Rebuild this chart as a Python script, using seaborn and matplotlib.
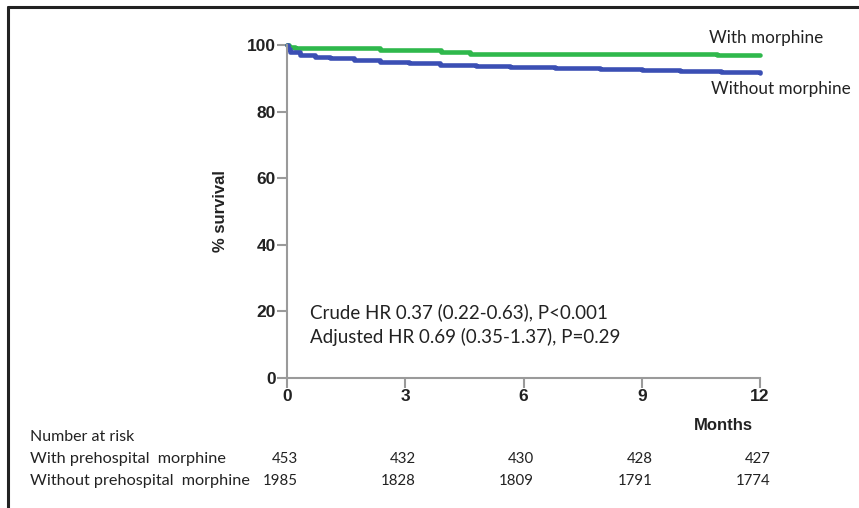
import matplotlib
matplotlib.use("Agg")
import matplotlib.pyplot as plt
import matplotlib.transforms as mtransforms
from matplotlib.lines import Line2D
import seaborn as sns
import pandas as pd

# ---- data ----
with_months = [0.0, 0.05, 0.2, 2.35, 3.9, 4.65, 10.9, 12.0]
with_surv = [100.0, 99.5, 99.1, 98.5, 97.8, 97.3, 97.0, 97.0]
without_months = [0.0, 0.03, 0.08, 0.33, 0.7, 1.09, 1.7, 2.36, 3.1, 3.88, 4.8, 5.66, 6.8, 7.94, 9.0, 9.97, 11.0, 12.0]
without_surv = [100.0, 98.8, 98.0, 97.0, 96.5, 96.0, 95.5, 95.0, 94.5, 94.0, 93.8, 93.5, 93.1, 92.7, 92.5, 92.3, 92.0, 91.7]
x_ticks = [0, 3, 6, 9, 12]
y_ticks = [0, 20, 40, 60, 80, 100]
risk_with = [453, 432, 430, 428, 427]
risk_without = [1985, 1828, 1809, 1791, 1774]
series_labels = ["With morphine", "Without morphine"]
risk_labels = ["With prehospital  morphine", "Without prehospital  morphine"]
hr_lines = ["Crude HR 0.37 (0.22-0.63), P<0.001", "Adjusted HR 0.69 (0.35-1.37), P=0.29"]

green = "#2fb84c"
blue = "#3b4fb4"
txt = "#222222"
body_font = ["Lato", "DejaVu Sans"]

df = pd.concat([
    pd.DataFrame({"month": with_months, "surv": with_surv, "group": series_labels[0]}),
    pd.DataFrame({"month": without_months, "surv": without_surv, "group": series_labels[1]}),
])

sns.set_theme(style="white")
plt.rcParams["font.family"] = ["Liberation Sans", "DejaVu Sans"]

fig = plt.figure(figsize=(8.59, 5.08), dpi=100)
ax = fig.add_axes([287 / 859, 1 - 378 / 508, (760 - 287) / 859, (378 - 45) / 508])

sns.lineplot(data=df, x="month", y="surv", hue="group", palette=[green, blue],
             drawstyle="steps-post", linewidth=3.3, ax=ax, legend=False, estimator=None,
             sort=False)
for ln in ax.lines:
    ln.set_clip_on(False)

ax.set_xlim(0, 12)
ax.set_ylim(0, 100)
ax.set_xticks(x_ticks)
ax.set_yticks(y_ticks)
ax.set_xticklabels([str(t) for t in x_ticks], fontweight="bold", fontsize=12.5, color=txt)
ax.set_yticklabels([str(t) for t in y_ticks], fontweight="bold", fontsize=12.5, color=txt)
ax.set_xlabel("")
ax.set_ylabel("% survival", fontweight="bold", fontsize=12, color=txt)
ax.yaxis.set_label_coords((228 - 287) / 473, 0.5)
for s in ["top", "right"]:
    ax.spines[s].set_visible(False)
for s in ["left", "bottom"]:
    ax.spines[s].set_color("#9a9a9a")
    ax.spines[s].set_linewidth(1.5)
ax.tick_params(axis="both", which="major", length=7, width=1.5, color="#9a9a9a", pad=1,
               bottom=True, left=True, direction="out")

# curve labels
fig.text(709 / 859, 1 - 38 / 508, series_labels[0], fontsize=12.3, color=txt,
         family=body_font, va="center", ha="left")
fig.text(711 / 859, 1 - 89 / 508, series_labels[1], fontsize=12.3, color=txt,
         family=body_font, va="center", ha="left")

# HR text
for i, t in enumerate(hr_lines):
    fig.text(310 / 859, 1 - (312 + 25 * i) / 508, t, fontsize=13.5, color=txt,
             family=body_font, va="center", ha="left")

fig.text(753 / 859, 1 - 426 / 508, "Months", fontsize=12, fontweight="bold",
         color=txt, va="center", ha="right")

# number at risk table
trans = mtransforms.blended_transform_factory(ax.transData, fig.transFigure)
fig.text(30 / 859, 1 - 437 / 508, "Number at risk", fontsize=11.5, color=txt,
         family=body_font, va="center", ha="left")
for row, (lab, vals) in enumerate(zip(risk_labels, [risk_with, risk_without])):
    yy = 1 - (459 + 22 * row) / 508
    fig.text(30 / 859, yy, lab, fontsize=11.7, color=txt,
             family=body_font, va="center", ha="left")
    for m, v in zip(x_ticks, vals):
        ax.text(m + 0.27, yy, str(v), transform=trans, fontsize=10.8, color=txt,
                family=body_font, va="center", ha="right", clip_on=False)

# frame lines (top and left)
fig.add_artist(Line2D([8 / 859, 8 / 859], [0, 1 - 7 / 508], transform=fig.transFigure,
                      color=txt, linewidth=2.2))
fig.add_artist(Line2D([8 / 859, 1], [1 - 7 / 508, 1 - 7 / 508], transform=fig.transFigure,
                      color=txt, linewidth=2.2))

fig.savefig("out.png", dpi=100)
